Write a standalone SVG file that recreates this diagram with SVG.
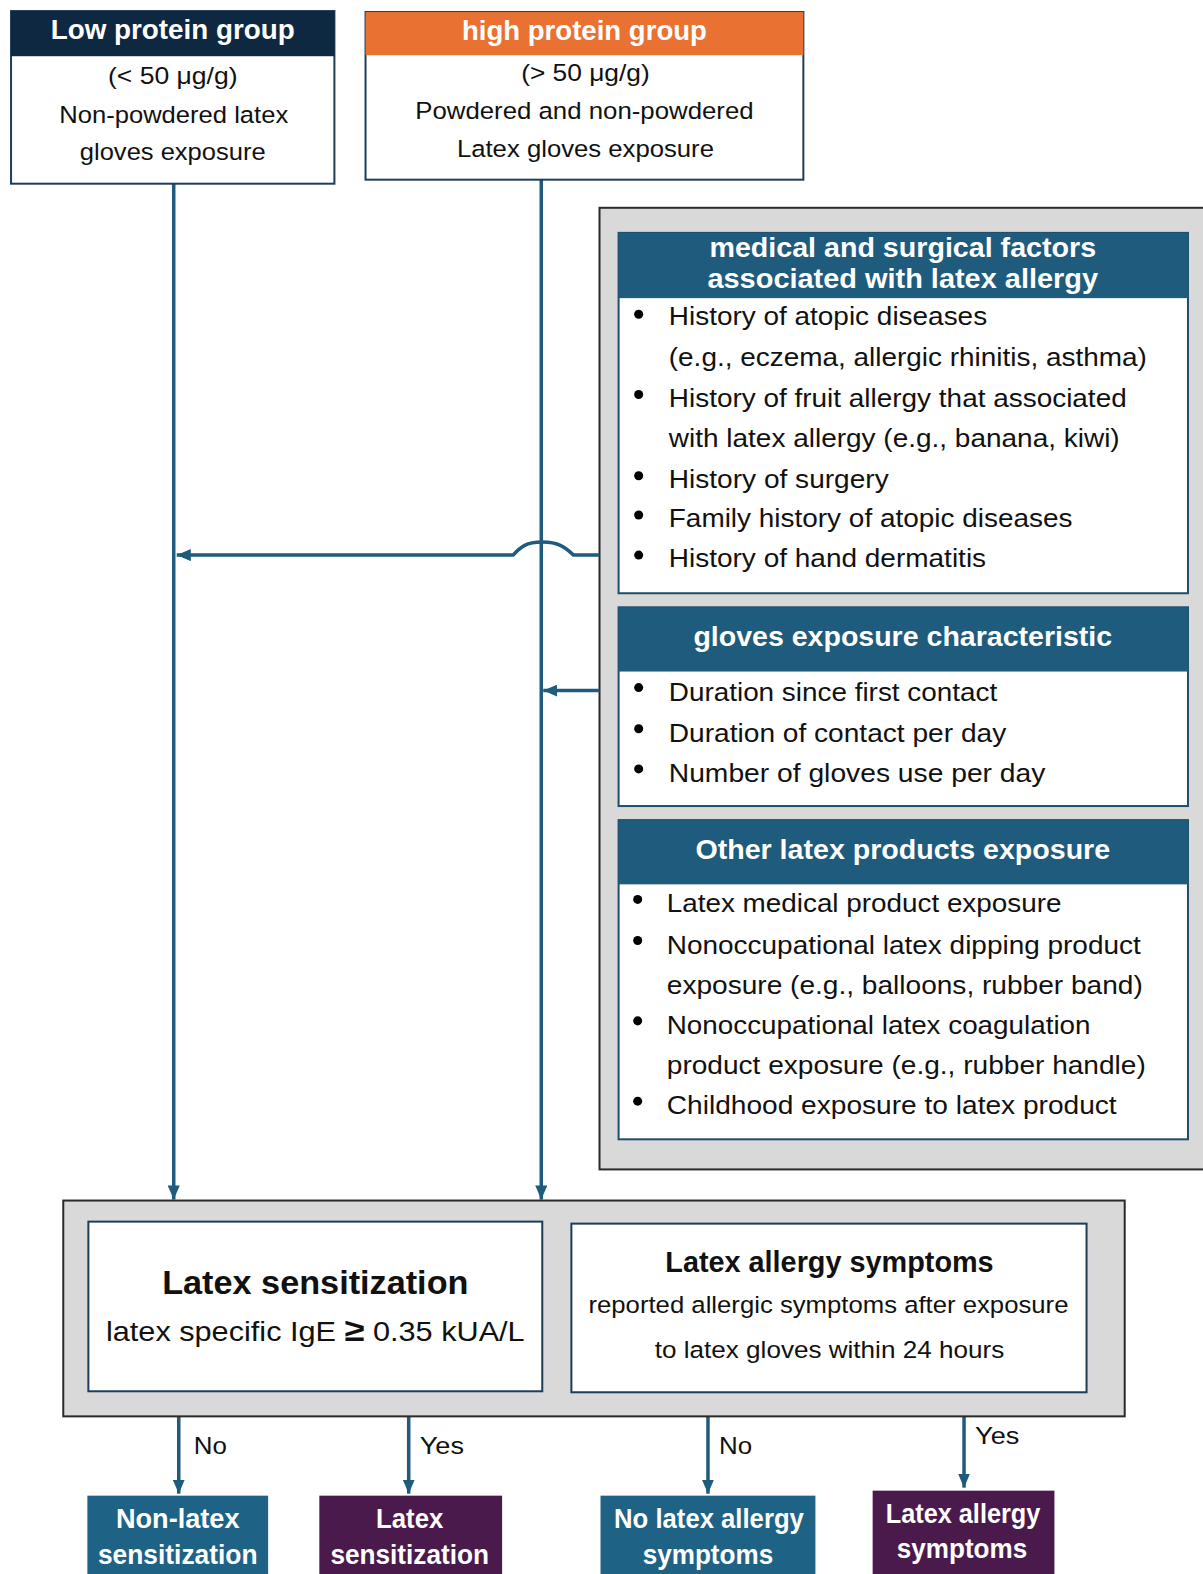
<svg xmlns="http://www.w3.org/2000/svg" width="1203" height="1574" viewBox="0 0 1203 1574">
<style>
.bx{fill:#fff;stroke:#1d3d58;stroke-width:2}
.pb{fill:#fff;stroke:#1f4e6b;stroke-width:2}
.hdr{fill:#1e5b7d}
.gray{fill:#d9d9d9;stroke:#2a2a2a;stroke-width:2}
.ln{fill:none;stroke:#1f5b7c;stroke-width:3.5}
.t{font-family:"Liberation Sans",Arial,sans-serif;fill:#111}
.hb{font-family:"Liberation Sans",Arial,sans-serif;font-weight:bold;fill:#fff}
.bb{font-family:"Liberation Sans",Arial,sans-serif;font-weight:bold;fill:#111}
.c{text-anchor:middle}
.bul{fill:#000}
</style>
<defs>
<marker id="ah" markerWidth="14" markerHeight="12" refX="14" refY="6" orient="auto" markerUnits="userSpaceOnUse">
<path d="M0,0 L14,6 L0,12 Z" fill="#1f5b7c"/>
</marker>
</defs>
<rect width="1203" height="1574" fill="#fff"/>
<g transform="scale(1.0042,1.0038)">

<g id="panel">
<rect class="gray" x="597" y="207" width="610" height="958"/>
</g>

<g id="connectors">
<line class="ln" x1="173" y1="183" x2="173" y2="1195" marker-end="url(#ah)"/>
<line class="ln" x1="539" y1="179" x2="539" y2="1195" marker-end="url(#ah)"/>
<path class="ln" d="M597,553 H571 C563,545 556,540 540,540 C524,540 518,545 511,553 H176" marker-end="url(#ah)"/>
<line class="ln" x1="597" y1="688" x2="541" y2="688" marker-end="url(#ah)"/>
<line class="ln" x1="178" y1="1386" x2="178" y2="1488" marker-end="url(#ah)"/>
<line class="ln" x1="407" y1="1386" x2="407" y2="1488" marker-end="url(#ah)"/>
<line class="ln" x1="705" y1="1387" x2="705" y2="1488" marker-end="url(#ah)"/>
<line class="ln" x1="960" y1="1387" x2="960" y2="1482" marker-end="url(#ah)"/>
<text class="t" x="193" y="1449" font-size="24" textLength="33" lengthAdjust="spacingAndGlyphs">No</text>
<text class="t" x="418" y="1449" font-size="24" textLength="44" lengthAdjust="spacingAndGlyphs">Yes</text>
<text class="t" x="716" y="1449" font-size="24" textLength="33" lengthAdjust="spacingAndGlyphs">No</text>
<text class="t" x="971" y="1439" font-size="24" textLength="44" lengthAdjust="spacingAndGlyphs">Yes</text>
</g>

<g id="low-protein">
<rect class="bx" x="11" y="11" width="322" height="172"/>
<rect x="11" y="11" width="322" height="45" fill="#0e2841"/>
<text class="hb c" x="172" y="39" font-size="28" textLength="243" lengthAdjust="spacingAndGlyphs">Low protein group</text>
<text class="t c" x="172" y="84" font-size="23" textLength="129" lengthAdjust="spacingAndGlyphs">(&lt; 50 μg/g)</text>
<text class="t c" x="173" y="123" font-size="23" textLength="228" lengthAdjust="spacingAndGlyphs">Non-powdered latex</text>
<text class="t c" x="172" y="159" font-size="23" textLength="185" lengthAdjust="spacingAndGlyphs">gloves  exposure</text>
</g>

<g id="high-protein">
<rect class="bx" x="364" y="12" width="436" height="167"/>
<rect x="364" y="12" width="436" height="43" fill="#e97132"/>
<text class="hb c" x="582" y="40" font-size="28" textLength="244" lengthAdjust="spacingAndGlyphs">high protein group</text>
<text class="t c" x="583" y="81" font-size="23" textLength="128" lengthAdjust="spacingAndGlyphs">(&gt; 50 μg/g)</text>
<text class="t c" x="582" y="119" font-size="23" textLength="337" lengthAdjust="spacingAndGlyphs">Powdered and non-powdered</text>
<text class="t c" x="583" y="156" font-size="23" textLength="256" lengthAdjust="spacingAndGlyphs">Latex gloves  exposure</text>
</g>

<g id="medical-factors">
<rect class="pb" x="616" y="232" width="567" height="359"/>
<rect class="hdr" x="616" y="232" width="567" height="65"/>
<text class="hb c" x="899" y="256" font-size="28" textLength="385" lengthAdjust="spacingAndGlyphs">medical and surgical factors</text>
<text class="hb c" x="899" y="287" font-size="28" textLength="389" lengthAdjust="spacingAndGlyphs">associated with latex allergy</text>
<circle class="bul" cx="636" cy="313" r="4.5"/>
<text class="t" x="666" y="324" font-size="26" textLength="317" lengthAdjust="spacingAndGlyphs">History of atopic diseases</text>
<text class="t" x="666" y="365" font-size="26" textLength="476" lengthAdjust="spacingAndGlyphs">(e.g., eczema, allergic rhinitis, asthma)</text>
<circle class="bul" cx="636" cy="393" r="4.5"/>
<text class="t" x="666" y="405" font-size="26" textLength="456" lengthAdjust="spacingAndGlyphs">History of fruit allergy that associated</text>
<text class="t" x="666" y="445" font-size="26" textLength="449" lengthAdjust="spacingAndGlyphs">with latex allergy (e.g., banana, kiwi)</text>
<circle class="bul" cx="636" cy="474" r="4.5"/>
<text class="t" x="666" y="486" font-size="26" textLength="219" lengthAdjust="spacingAndGlyphs">History of surgery</text>
<circle class="bul" cx="636" cy="513" r="4.5"/>
<text class="t" x="666" y="525" font-size="26" textLength="402" lengthAdjust="spacingAndGlyphs">Family history of atopic diseases</text>
<circle class="bul" cx="636" cy="553" r="4.5"/>
<text class="t" x="666" y="565" font-size="26" textLength="316" lengthAdjust="spacingAndGlyphs">History of hand dermatitis</text>
</g>

<g id="gloves-exposure">
<rect class="pb" x="616" y="605" width="567" height="198"/>
<rect class="hdr" x="616" y="605" width="567" height="64"/>
<text class="hb c" x="899" y="644" font-size="28" textLength="417" lengthAdjust="spacingAndGlyphs">gloves exposure characteristic</text>
<circle class="bul" cx="636" cy="685" r="4.5"/>
<text class="t" x="666" y="698" font-size="26" textLength="327" lengthAdjust="spacingAndGlyphs">Duration since first contact</text>
<circle class="bul" cx="636" cy="726" r="4.5"/>
<text class="t" x="666" y="739" font-size="26" textLength="336" lengthAdjust="spacingAndGlyphs">Duration of contact per day</text>
<circle class="bul" cx="636" cy="766" r="4.5"/>
<text class="t" x="666" y="779" font-size="26" textLength="375" lengthAdjust="spacingAndGlyphs">Number of gloves use per day</text>
</g>

<g id="other-exposure">
<rect class="pb" x="616" y="817" width="567" height="318"/>
<rect class="hdr" x="616" y="817" width="567" height="64"/>
<text class="hb c" x="899" y="856" font-size="28" textLength="413" lengthAdjust="spacingAndGlyphs">Other latex products exposure</text>
<circle class="bul" cx="635" cy="896" r="4.5"/>
<text class="t" x="664" y="909" font-size="26" textLength="393" lengthAdjust="spacingAndGlyphs">Latex medical product exposure</text>
<circle class="bul" cx="635" cy="937" r="4.5"/>
<text class="t" x="664" y="950" font-size="26" textLength="472" lengthAdjust="spacingAndGlyphs">Nonoccupational latex dipping product</text>
<text class="t" x="664" y="990" font-size="26" textLength="474" lengthAdjust="spacingAndGlyphs">exposure (e.g., balloons, rubber band)</text>
<circle class="bul" cx="635" cy="1017" r="4.5"/>
<text class="t" x="664" y="1030" font-size="26" textLength="422" lengthAdjust="spacingAndGlyphs">Nonoccupational latex coagulation</text>
<text class="t" x="664" y="1070" font-size="26" textLength="477" lengthAdjust="spacingAndGlyphs">product exposure (e.g., rubber handle)</text>
<circle class="bul" cx="635" cy="1097" r="4.5"/>
<text class="t" x="664" y="1110" font-size="26" textLength="448" lengthAdjust="spacingAndGlyphs">Childhood exposure to latex product</text>
</g>

<g id="outcome-panel">
<rect class="gray" x="63" y="1196" width="1057" height="215"/>
</g>

<g id="latex-sensitization">
<rect class="bx" x="88" y="1217" width="452" height="169"/>
<text class="bb c" x="314" y="1289" font-size="34" textLength="305" lengthAdjust="spacingAndGlyphs">Latex sensitization</text>
<text class="t c" x="314" y="1336" font-size="27" textLength="417" lengthAdjust="spacingAndGlyphs">latex  specific  IgE <tspan font-weight="bold" font-size="32">≥</tspan> 0.35 kUA/L</text>
</g>

<g id="latex-allergy-symptoms">
<rect class="bx" x="569" y="1219" width="513" height="168"/>
<text class="bb c" x="826" y="1267" font-size="30" textLength="327" lengthAdjust="spacingAndGlyphs">Latex allergy symptoms</text>
<text class="t c" x="825" y="1308" font-size="23" textLength="478" lengthAdjust="spacingAndGlyphs">reported allergic symptoms  after exposure</text>
<text class="t c" x="826" y="1353" font-size="23" textLength="348" lengthAdjust="spacingAndGlyphs">to latex gloves  within  24 hours</text>
</g>

<g id="non-latex-sensitization">
<rect x="87" y="1490" width="180" height="90" fill="#1e6285"/>
<text class="hb c" x="177" y="1522" font-size="27" textLength="123" lengthAdjust="spacingAndGlyphs">Non-latex</text>
<text class="hb c" x="177" y="1558" font-size="27" textLength="159" lengthAdjust="spacingAndGlyphs">sensitization</text>
</g>

<g id="latex-sensitization-out">
<rect x="318" y="1490" width="182" height="90" fill="#4a1a4d"/>
<text class="hb c" x="408" y="1522" font-size="27" textLength="67" lengthAdjust="spacingAndGlyphs">Latex</text>
<text class="hb c" x="408" y="1558" font-size="27" textLength="158" lengthAdjust="spacingAndGlyphs">sensitization</text>
</g>

<g id="no-latex-allergy">
<rect x="598" y="1490" width="214" height="90" fill="#1e6285"/>
<text class="hb c" x="706" y="1522" font-size="27" textLength="189" lengthAdjust="spacingAndGlyphs">No latex allergy</text>
<text class="hb c" x="705" y="1558" font-size="27" textLength="130" lengthAdjust="spacingAndGlyphs">symptoms</text>
</g>

<g id="latex-allergy-out">
<rect x="869" y="1485" width="181" height="95" fill="#4a1a4d"/>
<text class="hb c" x="959" y="1517" font-size="27" textLength="154" lengthAdjust="spacingAndGlyphs">Latex allergy</text>
<text class="hb c" x="958" y="1552" font-size="27" textLength="130" lengthAdjust="spacingAndGlyphs">symptoms</text>
</g>

</g>
</svg>
